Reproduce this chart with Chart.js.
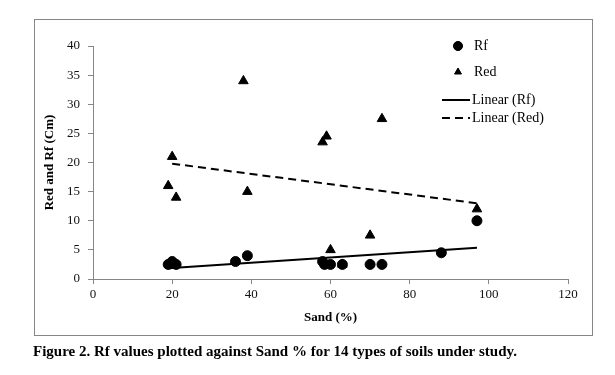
<!DOCTYPE html>
<html>
<head>
<meta charset="utf-8">
<script src="https://cdn.jsdelivr.net/npm/chart.js@4"></script>
<style>
    html, body { margin: 0; padding: 0; background: #fff; }
    #wrap { width: 615px; height: 375px; position: relative; }
</style>
</head>
<body>
<div id="wrap"><canvas id="chartSand"></canvas></div>
<script>
    // values
    const rfSand = [19, 20, 21, 36, 39, 58, 58.5, 60, 63, 70, 73, 88, 97];
    const rfValues = [2.5, 3, 2.5, 3, 4, 3, 2.5, 2.5, 2.5, 2.5, 2.5, 4.5, 10];
    const redSand = [19, 20, 21, 38, 39, 58, 59, 60, 63, 70, 73, 97];
    const redValues = [16, 21, 14, 34, 15, 23.5, 24.5, 5, 2.5, 7.5, 27.5, 12];
    const trendRfSand = [19, 97];
    const trendRfValues = [1.85, 5.35];
    const trendRedSand = [20, 97];
    const trendRedValues = [19.8, 13];
    const xTicks = [0, 20, 40, 60, 80, 100, 120];
    const yTicks = [0, 5, 10, 15, 20, 25, 30, 35, 40];

    const toPoints = (xs, ys) => xs.map((x, i) => ({ x: x, y: ys[i] }));

    const serif = '"Liberation Serif", "Times New Roman", serif';
    const axisGrey = '#868686';

    // frame, legend and caption
    const decorations = {
        id: 'decorations',
        afterDraw(chart) {
            const ctx = chart.ctx;
            ctx.save();
            ctx.strokeStyle = axisGrey;
            ctx.lineWidth = 1;
            ctx.strokeRect(34.5, 19.5, 558, 316);

            ctx.font = '14px ' + serif;
            ctx.fillStyle = '#000';
            ctx.textBaseline = 'middle';
            const rows = [46, 72, 100, 118];
            chart.data.datasets.forEach((ds, i) => {
                const y = rows[i];
                ctx.fillStyle = '#000';
                ctx.strokeStyle = '#000';
                if (ds.showLine) {
                    ctx.lineWidth = 2;
                    ctx.setLineDash(ds.borderDash || []);
                    ctx.beginPath();
                    ctx.moveTo(442, y);
                    ctx.lineTo(470, y);
                    ctx.stroke();
                    ctx.setLineDash([]);
                    ctx.fillText(ds.label, 472, y);
                } else {
                    Chart.helpers.drawPoint(ctx, {
                        pointStyle: ds.pointStyle,
                        radius: ds.pointStyle === 'triangle' ? 4 : 4.5,
                        rotation: 0,
                        borderWidth: 1
                    }, 458, y);
                    ctx.fill();
                    ctx.fillText(ds.label, 474, y);
                }
            });

            ctx.font = 'bold 15px ' + serif;
            ctx.textBaseline = 'middle';
            ctx.fillText('Figure 2. Rf values plotted against Sand % for 14 types of soils under study.', 33, 352);
            ctx.restore();
        }
    };

    new Chart(document.getElementById('chartSand'), {
        type: 'scatter',
        data: {
            datasets: [
                {
                    label: 'Rf',
                    data: toPoints(rfSand, rfValues),
                    pointStyle: 'circle',
                    pointRadius: 5,
                    backgroundColor: '#000',
                    borderColor: '#000',
                },
                {
                    label: 'Red',
                    data: toPoints(redSand, redValues),
                    pointStyle: 'triangle',
                    pointRadius: 5.5,
                    backgroundColor: '#000',
                    borderColor: '#000',
                },
                {
                    label: 'Linear (Rf)',
                    data: toPoints(trendRfSand, trendRfValues),
                    showLine: true,
                    pointRadius: 0,
                    borderColor: '#000',
                    borderWidth: 2,
                },
                {
                    label: 'Linear (Red)',
                    data: toPoints(trendRedSand, trendRedValues),
                    showLine: true,
                    pointRadius: 0,
                    borderColor: '#000',
                    borderWidth: 2,
                    borderDash: [8, 5],
                },
            ],
        },
        options: {
            responsive: true,
            maintainAspectRatio: false,
            animation: false,
            layout: {
                padding: { left: 36, top: 46, right: 47, bottom: 46 },
            },
            plugins: {
                legend: { display: false },
                tooltip: { enabled: false },
            },
            scales: {
                x: {
                    type: 'linear',
                    min: 0,
                    max: 120,
                    afterFit: (scale) => { scale.height = 50; },
                    afterBuildTicks: (scale) => { scale.ticks = xTicks.map((v) => ({ value: v })); },
                    grid: { drawOnChartArea: false, tickLength: 5, color: axisGrey },
                    border: { color: axisGrey },
                    ticks: { color: '#111', padding: 3, font: { family: serif, size: 13 } },
                    title: {
                        display: true,
                        text: 'Sand (%)',
                        color: '#000',
                        padding: { top: 0, bottom: 4 },
                        font: { family: serif, size: 13, weight: 'bold' },
                    },
                },
                y: {
                    type: 'linear',
                    min: 0,
                    max: 40,
                    afterFit: (scale) => { scale.width = 57; },
                    afterBuildTicks: (scale) => { scale.ticks = yTicks.map((v) => ({ value: v })); },
                    grid: { drawOnChartArea: false, tickLength: 5, color: axisGrey },
                    border: { color: axisGrey },
                    ticks: { color: '#111', padding: 8, font: { family: serif, size: 13 } },
                    title: {
                        display: true,
                        text: 'Red and Rf (Cm)',
                        color: '#000',
                        padding: { top: 6, bottom: 0 },
                        font: { family: serif, size: 13, weight: 'bold' },
                    },
                },
            },
        },
        plugins: [decorations],
    });
</script>
</body>
</html>
